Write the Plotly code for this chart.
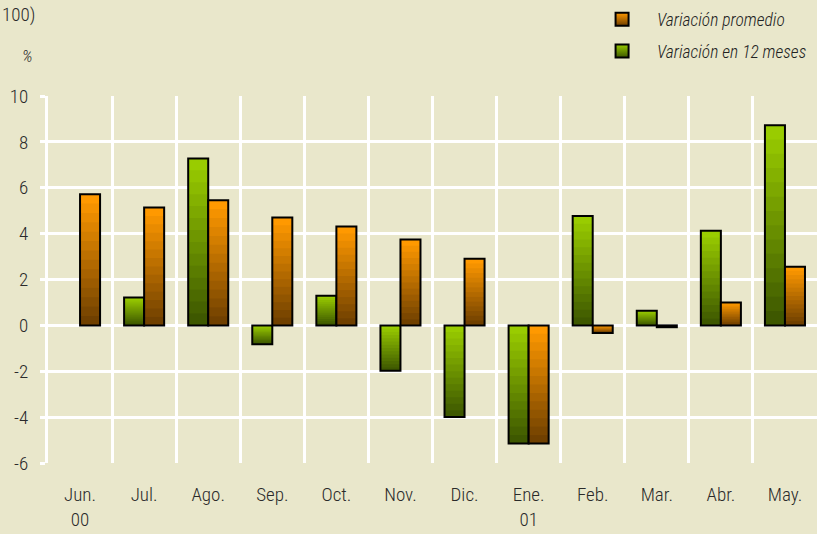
import numpy as np
import plotly.graph_objects as go

# datos
months = ["Jun.", "Jul.", "Ago.", "Sep.", "Oct.", "Nov.", "Dic.", "Ene.", "Feb.", "Mar.", "Abr.", "May."]
tick_labels = ["Jun.<br>00", "Jul.", "Ago.", "Sep.", "Oct.", "Nov.", "Dic.", "Ene.<br>01",
               "Feb.", "Mar.", "Abr.", "May."]
var_12m = [None, 1.21, 7.28, -0.82, 1.29, -1.98, -3.99, -5.15, 4.77, 0.64, 4.13, 8.73]
var_prom = [5.72, 5.14, 5.46, 4.70, 4.31, 3.74, 2.90, -5.15, -0.33, -0.08, 1.00, 2.56]
y_ticks = [-6, -4, -2, 0, 2, 4, 6, 8, 10]
y_tick_text = ["-6", "-4", "-2", "0", "2", "4", "6", "8", "10"]

bg = '#E9E7CB'
font_family = "Roboto Condensed, Roboto, sans-serif"
series = [
  dict(name='Variación en 12 meses', values=var_12m, top=(153, 204, 0), bottom=(62, 88, 0), group='g'),
  dict(name='Variación promedio', values=var_prom, top=(255, 153, 0), bottom=(112, 64, 0), group='o'),
]
n_steps = 14


def mix(c1, c2, t):
  return 'rgb(%d,%d,%d)' % tuple(round(a + (b - a) * t) for a, b in zip(c1, c2))


fig = go.Figure()
for s in series:
  v = np.array([np.nan if x is None else x for x in s['values']], dtype=float)
  hi = np.maximum(v, 0)
  lo = np.minimum(v, 0)
  h = np.abs(v) / n_steps
  # degradado: claro arriba, oscuro abajo; capas que se solapan (sin costuras)
  for k in range(n_steps):
    fig.add_trace(go.Bar(x=months, y=(hi - k * h) - lo, base=lo,
                         marker=dict(color=mix(s['top'], s['bottom'], k / (n_steps - 1)),
                                     line=dict(width=0)),
                         offsetgroup=s['group'], showlegend=False, hoverinfo='skip'))
  fig.add_trace(go.Bar(x=months, y=v, name=s['name'],
                       marker=dict(color='rgba(0,0,0,0)', line=dict(color='black', width=2)),
                       offsetgroup=s['group'], showlegend=False))

# leyenda
for s in series[::-1]:
  fig.add_trace(go.Scatter(x=[None], y=[None], mode='markers', name=s['name'],
                           legendgroup=s['group'],
                           marker=dict(symbol='square', size=13, color=mix(s['top'], s['top'], 0),
                                       gradient=dict(type='vertical', color=mix(s['bottom'], s['bottom'], 0)),
                                       line=dict(color='black', width=2))))

fig.update_layout(
  width=817, height=534,
  paper_bgcolor=bg, plot_bgcolor=bg,
  margin=dict(l=48, r=0, t=96, b=71),
  barmode='group', bargap=0.375, bargroupgap=0,
  font=dict(family=font_family, size=19, color='#2a2a2a', weight=300),
  xaxis=dict(type='category', range=[-0.5, 11.5], tickson='boundaries',
             tickvals=months, ticktext=tick_labels,
             showgrid=True, gridcolor='white', gridwidth=3, ticks='',
             showline=False, zeroline=False, ticklabelstandoff=18),
  yaxis=dict(range=[-6, 10], tickvals=y_ticks, ticktext=y_tick_text,
             showgrid=True, gridcolor='white', gridwidth=3, zeroline=False,
             ticks='outside', ticklen=5, tickwidth=3, tickcolor='white',
             showline=True, linecolor='white', linewidth=3, ticklabelstandoff=8),
  legend=dict(x=0.701, y=1.258, xanchor='left', yanchor='top', bgcolor='rgba(0,0,0,0)',
              traceorder='grouped', tracegroupgap=6, itemwidth=60,
              font=dict(family=font_family, size=17.5, style='italic', weight=300, color='#222222')),
  showlegend=True,
  annotations=[
    dict(text='100)', xref='paper', yref='paper', x=-0.0624, y=1.222, xanchor='left',
         yanchor='middle', showarrow=False, font=dict(size=19)),
    dict(text='%', xref='paper', yref='paper', x=-0.027, y=1.109, xanchor='center',
         yanchor='middle', showarrow=False, font=dict(size=17, style='italic')),
  ],
)

fig.write_html("out.html", config={'displayModeBar': False},
               post_script="document.body.style.margin='0px';")
